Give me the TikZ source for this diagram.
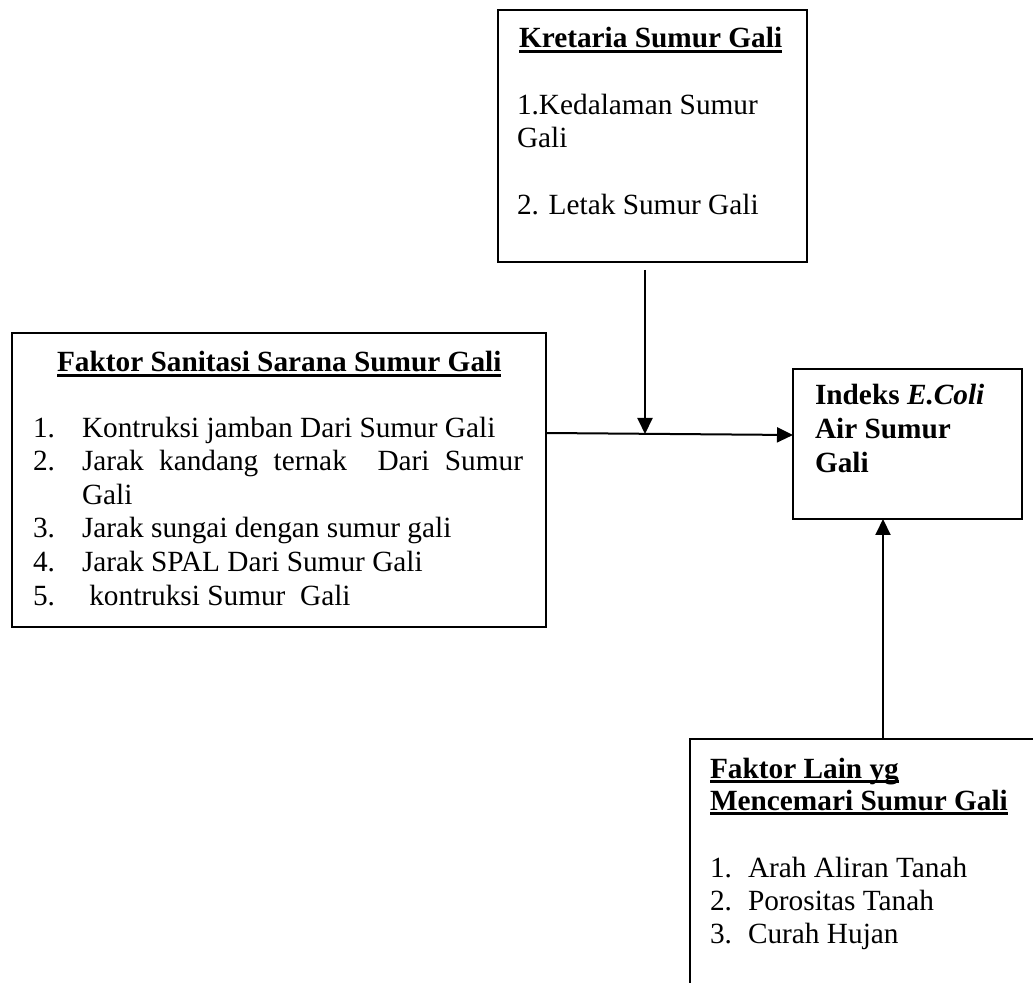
\documentclass[tikz,border=0pt]{standalone}
\usepackage{fontspec}
\setmainfont{Liberation Serif}
\usetikzlibrary{arrows.meta}
\newcommand\myul[1]{\setbox0\hbox{#1}\rlap{\rule[-2.3pt]{\wd0}{1.1pt}}\box0}
\tikzset{
  box/.style={draw=black, line width=1pt, rectangle, inner sep=0pt, outer sep=0pt},
  txt/.style={anchor=base west, inner sep=0pt, outer sep=0pt, font=\fontsize{14.65pt}{16.9pt}\selectfont},
  arr/.style={line width=1pt, -{Triangle[length=8pt,width=7.5pt]}},
}
\begin{document}
\begin{tikzpicture}[x=0.5pt, y=-0.5pt]
\useasboundingbox (0,0) rectangle (1033,983);
\clip (0,0) rectangle (1033,983);
% boxes
\node[box, minimum width=154.5pt, minimum height=126pt] (topbox) at (652.5,136) {};
\node[box, minimum width=267pt, minimum height=147pt] (leftbox) at (279,480) {};
\node[box, minimum width=114.5pt, minimum height=75pt] (index) at (907.5,444) {};
\node[box, minimum width=185pt, minimum height=135.5pt] (bottombox) at (875,874.5) {};
% top box texts
\node[txt] (t1) at (519,48) {\myul{\textbf{Kretaria Sumur Gali}}};
\node[txt] (t2) at (517,115) {1.Kedalaman Sumur};
\node[txt] (t3) at (517,148) {Gali};
\node[txt] (t4) at (517,215) {2. Letak Sumur Gali};
% left box texts
\node[txt] (l0) at (57,372) {\myul{\textbf{Faktor Sanitasi Sarana Sumur Gali}}};
\node[txt] (l1n) at (33,438) {1.};
\node[txt] (l1) at (82,438) {Kontruksi jamban Dari Sumur Gali};
\node[txt] (l2n) at (33,471) {2.};
\node[txt] (l2) at (82,471) {\hbox to 220.5pt{Jarak\hfil\ kandang\hfil\ ternak\hfil\ \hfil\ Dari\hfil\ Sumur}};
\node[txt] (l2b) at (82,505) {Gali};
\node[txt] (l3n) at (33,538) {3.};
\node[txt] (l3) at (82,538) {Jarak sungai dengan sumur gali};
\node[txt] (l4n) at (33,572) {4.};
\node[txt] (l4) at (82,572) {Jarak SPAL Dari Sumur Gali};
\node[txt] (l5n) at (33,605) {5.};
\node[txt] (l5) at (82,605) {\ kontruksi Sumur\ \ Gali};
% index texts
\node[txt] (i1) at (815,405) {\textbf{Indeks \textit{E.Coli}}};
\node[txt] (i2) at (815,439) {\textbf{Air Sumur}};
\node[txt] (i3) at (815,473) {\textbf{Gali}};
% bottom box texts
\node[txt] (b1) at (710,778) {\myul{\textbf{Faktor Lain yg}}};
\node[txt] (b2) at (710,810) {\myul{\textbf{Mencemari Sumur Gali}}};
\node[txt] (b3n) at (710,877) {1.};
\node[txt] (b3) at (748,877) {Arah Aliran Tanah};
\node[txt] (b4n) at (710,910) {2.};
\node[txt] (b4) at (748,910) {Porositas Tanah};
\node[txt] (b5n) at (710,943) {3.};
\node[txt] (b5) at (748,943) {Curah Hujan};
% connectors
\coordinate (dstart) at (645,270);
\coordinate (dend) at (645,434);
\coordinate (hstart) at (leftbox.east |- 0,433);
\coordinate (hend) at (index.west |- 0,435);
\coordinate (ustart) at (bottombox.north -| 883,0);
\coordinate (uend) at (index.south -| 883,0);
\draw[arr] (hstart) -- (hend);
\draw[arr] (dstart) -- (dend);
\draw[arr] (ustart) -- (uend);
\end{tikzpicture}
\end{document}
